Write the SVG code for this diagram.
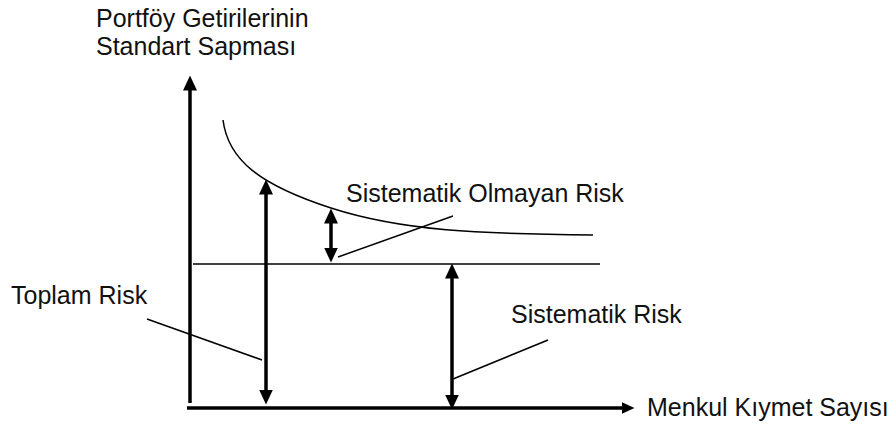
<svg xmlns="http://www.w3.org/2000/svg" width="896" height="428" viewBox="0 0 896 428">
  <style>
    .lbl { font-family: "Liberation Sans", Arial, sans-serif; font-size: 25px; fill: #111; }
    .thin { stroke: #000; stroke-width: 1.5; fill: none; }
    .axis { stroke: #000; stroke-width: 3.5; fill: none; }
    .arr { stroke: #000; stroke-width: 3.5; fill: none; }
  </style>
  <defs>
    <marker id="ah" viewBox="0 -7 15 14" markerWidth="15" markerHeight="14" refX="0.5" refY="0" orient="auto-start-reverse" markerUnits="userSpaceOnUse">
      <path d="M0,-7 L15,0 L0,7 z" fill="#000"/>
    </marker>
    <marker id="ahs" viewBox="0 -6 13 12" markerWidth="13" markerHeight="12" refX="0.5" refY="0" orient="auto" markerUnits="userSpaceOnUse">
      <path d="M0,-6 L13,0 L0,6 z" fill="#000"/>
    </marker>
  </defs>
  <rect width="896" height="428" fill="#fff"/>

  <g id="connectors">
    <!-- axes -->
    <line class="axis" x1="190" y1="403" x2="190" y2="90" marker-end="url(#ah)"/>
    <line class="axis" x1="187" y1="408" x2="622" y2="408" stroke-width="4" marker-end="url(#ahs)"/>
    <!-- risk curve -->
    <path class="thin" d="M223,120 C228,160 260,185 331,208 S480,234 593,235"/>
    <!-- systematic level line -->
    <line class="thin" x1="193" y1="264" x2="600" y2="264"/>
    <!-- double arrows -->
    <line class="arr" x1="266" y1="194" x2="266" y2="390" stroke-width="3.2" marker-start="url(#ah)" marker-end="url(#ah)"/>
    <line class="arr" x1="331" y1="223" x2="331" y2="248" marker-start="url(#ah)" marker-end="url(#ah)"/>
    <line class="arr" x1="452" y1="278" x2="452" y2="395" marker-start="url(#ah)" marker-end="url(#ah)"/>
    <!-- leader lines -->
    <line class="thin" x1="338" y1="257" x2="453" y2="216"/>
    <line class="thin" x1="147" y1="319" x2="262" y2="360"/>
    <line class="thin" x1="453" y1="379" x2="548" y2="340"/>
  </g>

  <g id="y-axis-label">
    <text class="lbl" x="96" y="27">Portföy Getirilerinin</text>
    <text class="lbl" x="96" y="55">Standart Sapması</text>
  </g>
  <g id="x-axis-label">
    <text class="lbl" x="647" y="416">Menkul Kıymet Sayısı</text>
  </g>
  <g id="unsystematic-risk">
    <text class="lbl" x="346" y="202">Sistematik Olmayan Risk</text>
  </g>
  <g id="total-risk">
    <text class="lbl" x="11" y="304">Toplam Risk</text>
  </g>
  <g id="systematic-risk">
    <text class="lbl" x="511" y="323">Sistematik Risk</text>
  </g>
</svg>
